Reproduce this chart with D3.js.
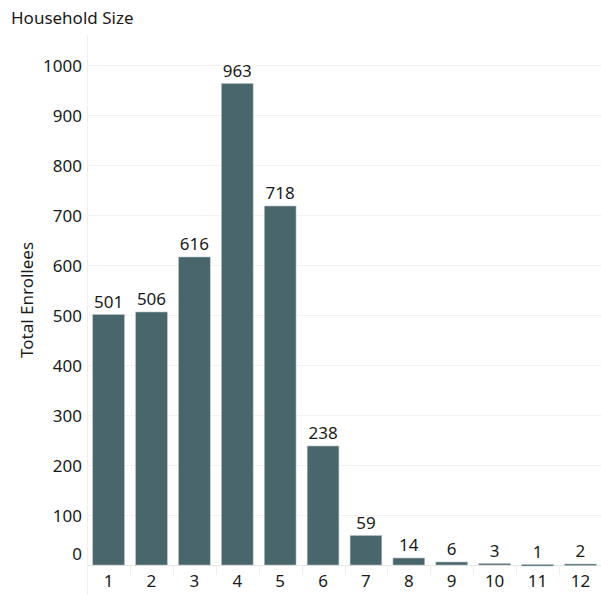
<!DOCTYPE html>
<html>
<head>
<meta charset="utf-8">
<script src="https://cdn.jsdelivr.net/npm/d3@7"></script>
<style>
  body { margin: 0; background: #fff; }
  text { font-family: "Noto Sans", "Open Sans", sans-serif; fill: #1a1a1a; }
</style>
</head>
<body>
<div id="chart"></div>
<script>
// Daten
const householdSizes = ["1", "2", "3", "4", "5", "6", "7", "8", "9", "10", "11", "12"];
const enrollees = [501, 506, 616, 963, 718, 238, 59, 14, 6, 3, 1, 2];
const yTicks = [0, 100, 200, 300, 400, 500, 600, 700, 800, 900, 1000];

const data = householdSizes.map((k, i) => ({ size: k, value: enrollees[i] }));

const width = 601, height = 595;
const margin = { top: 35, right: 0, bottom: 30, left: 88 };
const plotBottom = 565;

const svg = d3.select("#chart").append("svg")
    .attr("width", width)
    .attr("height", height);

const x = d3.scaleBand()
    .domain(householdSizes)
    .range([margin.left, width - margin.right])
    .paddingInner(0.26)
    .paddingOuter(0.11);

const y = d3.scaleLinear()
    .domain([0, 1000])
    .range([plotBottom, 65]);

// Gitterlinien
svg.append("g")
    .selectAll("line")
    .data(yTicks)
    .enter()
    .append("line")
    .attr("x1", margin.left)
    .attr("x2", width)
    .attr("y1", d => y(d) + 0.5)
    .attr("y2", d => y(d) + 0.5)
    .attr("stroke", d => d === 0 ? "#e6e6e6" : "#f2f2f2")
    .attr("stroke-width", 1);

// linke Achsenlinie
svg.append("line")
    .attr("x1", margin.left - 0.5)
    .attr("x2", margin.left - 0.5)
    .attr("y1", margin.top)
    .attr("y2", height)
    .attr("stroke", "#efefef");

// Trennlinien zwischen Kategorien unten
svg.append("g")
    .selectAll("line")
    .data(householdSizes.slice(1))
    .enter()
    .append("line")
    .attr("x1", d => Math.round(x(d) - x.step() * x.paddingInner() / 2) + 0.5)
    .attr("x2", d => Math.round(x(d) - x.step() * x.paddingInner() / 2) + 0.5)
    .attr("y1", plotBottom)
    .attr("y2", plotBottom + 10)
    .attr("stroke", "#efefef");

// Y-Achse Beschriftung (0 etwas nach oben versetzt)
svg.append("g")
    .selectAll("text")
    .data(yTicks)
    .enter()
    .append("text")
    .attr("x", 82)
    .attr("y", d => d === 0 ? y(d) - 5 : y(d) + 7)
    .attr("text-anchor", "end")
    .attr("font-size", "17px")
    .text(d => d);

// Balken
svg.append("g")
    .selectAll("rect")
    .data(data)
    .enter()
    .append("rect")
    .attr("x", d => x(d.size))
    .attr("y", d => y(d.value))
    .attr("width", x.bandwidth())
    .attr("height", d => Math.max(1.5, plotBottom - y(d.value)))
    .attr("fill", "#48666c")
    .attr("stroke", "#b7c4c6")
    .attr("stroke-width", 0.6);

// Wertbeschriftungen
svg.append("g")
    .selectAll("text")
    .data(data)
    .enter()
    .append("text")
    .attr("x", d => x(d.size) + x.bandwidth() / 2)
    .attr("y", d => y(d.value) - 7)
    .attr("text-anchor", "middle")
    .attr("font-size", "17px")
    .text(d => d.value);

// X-Achse Beschriftung
svg.append("g")
    .selectAll("text")
    .data(householdSizes)
    .enter()
    .append("text")
    .attr("x", d => x(d) + x.bandwidth() / 2)
    .attr("y", 587)
    .attr("text-anchor", "middle")
    .attr("font-size", "17px")
    .text(d => d);

// Titel
svg.append("text")
    .attr("x", 11)
    .attr("y", 24)
    .attr("font-size", "17px")
    .text("Household Size");

// Achsentitel
svg.append("text")
    .attr("transform", "translate(33, 300) rotate(-90)")
    .attr("text-anchor", "middle")
    .attr("font-size", "17px")
    .text("Total Enrollees");
</script>
</body>
</html>
